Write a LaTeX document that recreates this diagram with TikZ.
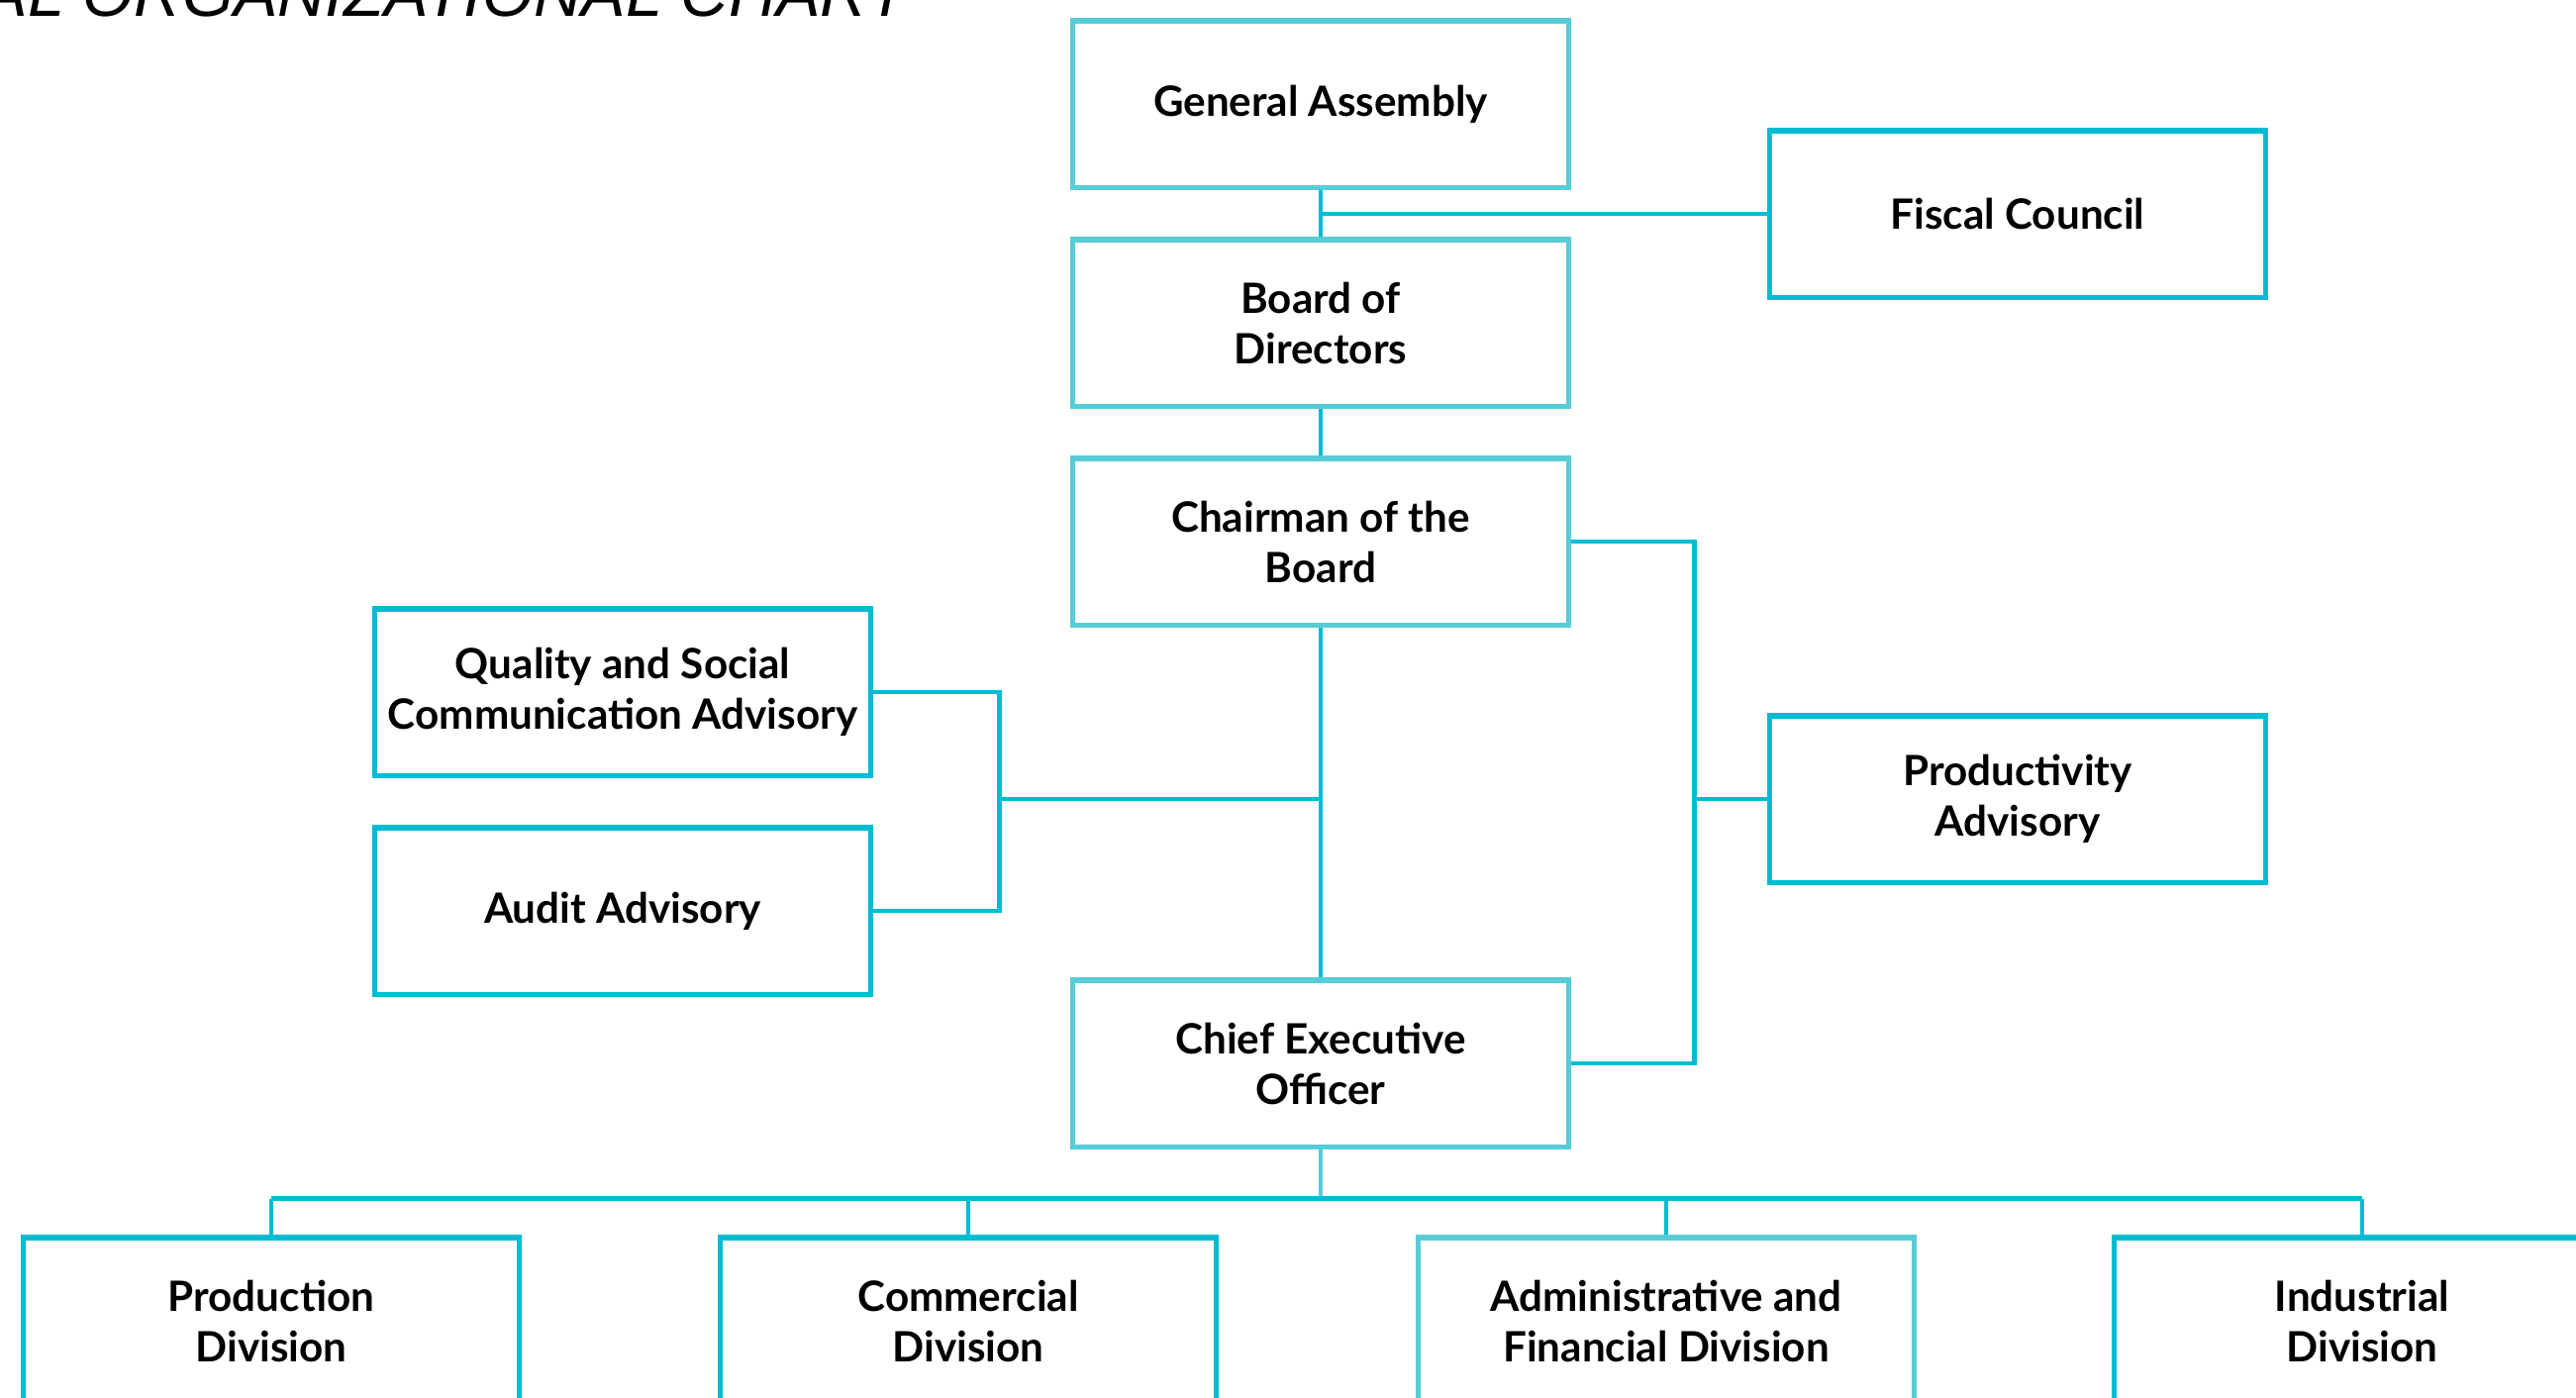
\documentclass[tikz,border=0pt]{standalone}
\usepackage{fontspec}
\usepackage{tikz}
\newfontfamily\boxfont{Lato}
\newfontfamily\titlefont{Liberation Sans}
\definecolor{palecyan}{RGB}{86,205,214}
\definecolor{deepcyan}{RGB}{0,188,210}

\begin{document}
\begin{tikzpicture}[x=0.01cm, y=-0.01cm,
						% Define styles for the boxes and the lines
						chart box/.style={draw, line width=1.45pt, minimum width=5.01cm, minimum height=1.68cm, inner sep=0pt, align=center, font=\boxfont\bfseries\fontsize{12}{14.5}\selectfont},
						pale box/.style={chart box, draw=palecyan},
						deep box/.style={chart box, draw=deepcyan},
						link/.style={draw=deepcyan, line width=1.35pt}
						]
						
						\useasboundingbox (0,0) rectangle (2602,1412);
						\clip (0,0) rectangle (2602,1412);
						
						% Title (cut at the page edge)
						\node[anchor=base west, inner sep=0pt, font=\titlefont\itshape\fontsize{19}{22}\selectfont] (title) at (-17,17) {AL ORGANIZATIONAL CHART};
						
						% Place the boxes
						\node[pale box] (GA) at (1334,105) {General Assembly};
						\node[deep box] (FC) at (2038,216) {Fiscal Council};
						\node[pale box] (BD) at (1334,326) {Board of\\Directors};
						\node[pale box] (CB) at (1334,547) {Chairman of the\\Board};
						\node[deep box] (QA) at (629,699) {Quality and Social\\Communication Advisory};
						\node[deep box] (AA) at (629,920) {Audit Advisory};
						\node[deep box] (PA) at (2038,807) {Productivity\\Advisory};
						\node[pale box] (CEO) at (1334,1074) {Chief Executive\\Officer};
						\node[deep box] (PD) at (274,1334) {Production\\Division};
						\node[deep box] (CD) at (978,1334) {Commercial\\Division};
						\node[pale box] (AD) at (1683,1334) {Administrative and\\Financial Division};
						\node[deep box] (ID) at (2386,1334) {Industrial\\Division};
						
						% --- Draw the lines ---
						\draw[link] (GA) -- (BD);
						\draw[link] (FC.west) -- (FC.west -| GA.south);
						\draw[link] (BD) -- (CB);
						\draw[link] (CB) -- (CEO);
						\draw[link] (CB.east) -- ++(124,0) coordinate (rb) |- (CEO.east);
						\draw[link] (rb |- PA.west) -- (PA.west);
						\draw[link] (QA.east) -- ++(127,0) coordinate (lb) |- (AA.east);
						\draw[link] (lb |- PA.west) -- (CB.south |- PA.west);
						\draw[link, draw=palecyan] (CEO.south) -- ++(0,50) coordinate (bus);
						\draw[link] (PD.north |- bus) -- (ID.north |- bus);
						\foreach \d in {PD,CD,AD,ID}
							\draw[link] (\d.north |- bus) -- (\d.north);
					\end{tikzpicture}
\end{document}
